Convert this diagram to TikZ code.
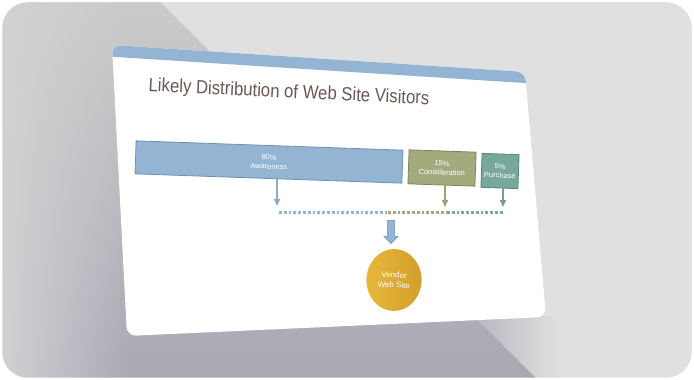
\documentclass[tikz,border=0pt]{standalone}
\usepackage{fontspec}
\setmainfont{Liberation Sans}
\usetikzlibrary{shapes.geometric,shapes.arrows,arrows.meta,fadings}
\definecolor{framegray}{HTML}{E0E0E0}
\definecolor{shadetop}{HTML}{CBCBCB}
\definecolor{shadebot}{HTML}{A9A7B3}
\definecolor{shadeedge}{HTML}{D2D2D4}
\definecolor{headblue}{HTML}{93B5D3}
\definecolor{awareblue}{HTML}{93B5D3}
\definecolor{awareline}{HTML}{6F90AE}
\definecolor{considgreen}{HTML}{A3AA7E}
\definecolor{considline}{HTML}{7D845E}
\definecolor{purchteal}{HTML}{78A79B}
\definecolor{purchline}{HTML}{56857A}
\definecolor{titlebrown}{HTML}{6C5852}
\definecolor{goldlight}{HTML}{E8B83C}
\definecolor{golddark}{HTML}{D29E2A}
\tikzset{
  bar/.style={draw,line width=0.8pt,minimum height=33pt,rotate=-2,align=center,
    text=white,font=\fontsize{7.5}{9}\selectfont,inner sep=0pt},
  drop/.style={-{Triangle[width=6pt,length=7pt]},line width=1.5pt},
  dots/.style={line width=3pt,dash pattern=on 2.8pt off 2pt}
}
\begin{document}
\begin{tikzpicture}[x=1pt,y=1pt]
\useasboundingbox (0,0) rectangle (694,380);
% backdrop
\begin{scope}
\clip[rounded corners=26] (1.5,1.5) rectangle (692.5,378.5);
\fill[framegray] (0,0) rectangle (694,380);
\shade[top color=shadetop,bottom color=shadebot] (0,380) -- (158,380) -- (538,0) -- (0,0) -- cycle;
\fill[shadeedge,path fading=east] (0,0) rectangle (130,380);
\shade[left color=shadebot!75!framegray,right color=framegray] (474,64) -- (558,64) -- (558,0) -- (538,0) -- cycle;
\end{scope}
\draw[white,line width=1.5pt,rounded corners=26] (1.5,1.5) rectangle (692.5,378.5);
% slide
\fill[white,rounded corners=9] (112,335) -- (525,308) -- (546,63) -- (127,44) -- cycle;
\begin{scope}
\clip[rounded corners=9] (112,335) -- (525,308) -- (546,63) -- (127,44) -- cycle;
\fill[headblue] (100,340) -- (540,340) -- (540,296) -- (100,324) -- cycle;
\end{scope}
\node[text=titlebrown,font=\fontsize{19}{22}\selectfont,rotate=-2.7,xscale=0.88] (title) at (289,287) {Likely Distribution of Web Site Visitors};
% bars
\node[bar,fill=awareblue,draw=awareline,minimum width=267pt] (aware) at (269,218) {80\%\\Awareness};
\node[bar,fill=considgreen,draw=considline,minimum width=67pt,minimum height=34pt] (consid) at (442,212) {15\%\\Consideration};
\node[bar,fill=purchteal,draw=purchline,minimum width=37pt,minimum height=34pt] (purch) at (500,209) {5\%\\Purchase};
\coordinate (tipA) at (277,174);
\coordinate (tipC) at (445,173);
\coordinate (tipP) at (503,173);
\draw[drop,awareblue!80!awareline] (aware.south -| tipA) -- (tipA);
\draw[drop,considgreen!80!considline] (consid.south -| tipC) -- (tipC);
\draw[drop,purchteal!80!purchline] (purch.south -| tipP) -- (tipP);
% dotted line
\coordinate (dotA) at (279,167);
\coordinate (dotB) at (388,167);
\coordinate (dotC) at (447,167);
\coordinate (dotP) at (504,167);
\draw[dots,awareblue] (dotA) -- (dotB);
\draw[dots,considgreen] (dotB) -- (dotC);
\draw[dots,purchteal] (dotC) -- (dotP);
% into the site
\node[single arrow,shape border rotate=270,fill=awareblue,draw=awareline,line width=0.6pt,
  minimum height=23pt,minimum width=14pt,inner sep=3pt,single arrow head extend=3pt] (funnel) at (391,150) {};
\node[ellipse,minimum width=55pt,minimum height=62pt,left color=goldlight,right color=golddark,
  text=white,align=center,font=\fontsize{8}{10}\selectfont,rotate=-2] (vendor) at (394,100) {Vendor\\Web Site};
\end{tikzpicture}
\end{document}
